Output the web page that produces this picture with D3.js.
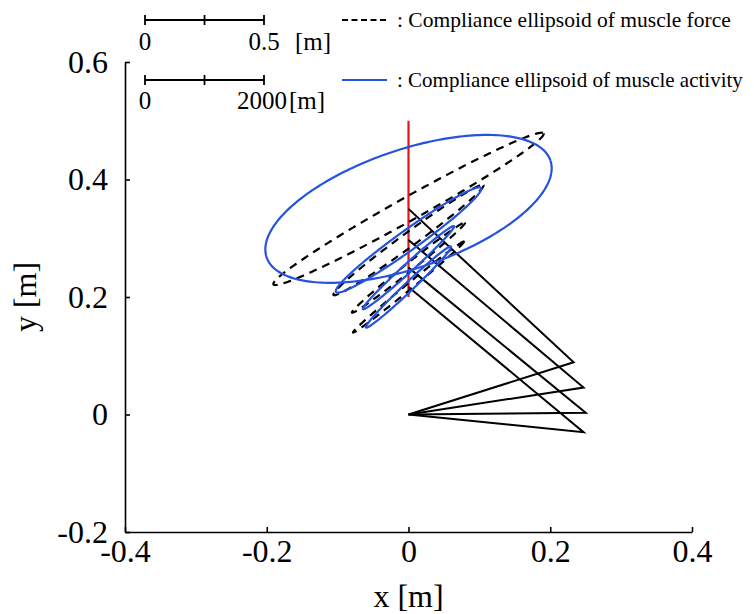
<!DOCTYPE html>
<html>
<head>
<meta charset="utf-8">
<script src="https://cdn.jsdelivr.net/npm/d3@7"></script>
<style>
  html, body { margin: 0; padding: 0; background: #fff; }
  svg { display: block; }
  text { font-family: "Liberation Serif", "Times New Roman", serif; fill: #000; }
</style>
</head>
<body>
<svg id="chart" width="754" height="614"></svg>
<script>
// ---------- data ----------
const xTicks = [-0.4, -0.2, 0, 0.2, 0.4];
const xTickLabels = ["-0.4", "-0.2", "0", "0.2", "0.4"];
const yTicks = [-0.2, 0, 0.2, 0.4, 0.6];
const yTickLabels = ["-0.2", "0", "0.2", "0.4", "0.6"];

// arm postures: shoulder at origin, elbow, hand (x = 0)
const shoulder = [0, 0];
const elbowX = [0.233, 0.247, 0.250, 0.247];
const elbowY = [0.089, 0.046, 0.003, -0.030];
const handX = [0, 0, 0, 0];
const handY = [0.350, 0.297, 0.250, 0.217];

// target path (red)
const pathX = [0, 0];
const pathY = [0.2, 0.5];

// ellipses: conjugate semi-diameters [dx, dy] in data units, centred on each hand
const forceU = [[0.1905, 0.1285], [0.1058, 0.0936], [0.0797, 0.0766], [0.0783, 0.0774]];
const forceV = [[0.0080, -0.0172], [0.0058, -0.0096], [0.0035, -0.0053], [0.0027, -0.0039]];
const activityU = [[0.2002, 0.0824], [0.1023, 0.0885], [0.0642, 0.0706], [0.0600, 0.0689]];
const activityV = [[0.0269, -0.0952], [0.0082, -0.0139], [0.0043, -0.0057], [0.0044, -0.0055]];

const scaleBar1 = ["0", "0.5", "[m]"];
const scaleBar2 = ["0", "2000", "[m]"];
const legendLabels = [": Compliance ellipsoid of muscle force", ": Compliance ellipsoid of muscle activity"];

// ---------- drawing ----------
const svg = d3.select("#chart");
const x = d3.scaleLinear().domain([-0.4, 0.4]).range([125, 692]);
const y = d3.scaleLinear().domain([-0.2, 0.6]).range([532, 62]);

const FONT = 32;

// axes
const xAxis = d3.axisBottom(x).tickValues(xTicks)
  .tickFormat((d, i) => xTickLabels[i]).tickSizeInner(-5).tickSizeOuter(0).tickPadding(7);
const yAxis = d3.axisLeft(y).tickValues(yTicks)
  .tickFormat((d, i) => yTickLabels[i]).tickSizeInner(-5).tickSizeOuter(0).tickPadding(17);

const gx = svg.append("g").attr("transform", `translate(0,${y(-0.2)})`).call(xAxis);
const gy = svg.append("g").attr("transform", `translate(${x(-0.4)},0)`).call(yAxis);
[gx, gy].forEach(g => {
  g.select(".domain").attr("stroke", "#000").attr("stroke-width", 1.6);
  g.selectAll(".tick line").attr("stroke", "#000").attr("stroke-width", 1.6);
  g.selectAll(".tick text").style("font-family", '"Liberation Serif", serif')
    .style("font-size", FONT + "px").attr("fill", "#000");
});

svg.append("text").attr("x", x(0)).attr("y", 607).attr("text-anchor", "middle")
  .style("font-size", FONT + "px").text("x [m]");
svg.append("text").attr("transform", `translate(36,${y(0.2)}) rotate(-90)`)
  .attr("text-anchor", "middle").style("font-size", FONT + "px").text("y [m]");

// red target line
const line = d3.line().x(d => x(d[0])).y(d => y(d[1]));
svg.append("path").datum(pathX.map((v, i) => [v, pathY[i]]))
  .attr("d", line).attr("stroke", "#e8141b").attr("stroke-width", 2.2).attr("fill", "none");

// arms
elbowX.forEach((ex, i) => {
  svg.append("path")
    .datum([[handX[i], handY[i]], [ex, elbowY[i]], shoulder])
    .attr("d", line).attr("stroke", "#000").attr("stroke-width", 2)
    .attr("fill", "none").attr("stroke-linejoin", "miter");
});

// ellipses
const T = d3.range(0, 2 * Math.PI + 0.001, Math.PI / 120);
function ellipsePts(cx, cy, U, V) {
  return T.map(t => [cx + U[0] * Math.cos(t) + V[0] * Math.sin(t),
                     cy + U[1] * Math.cos(t) + V[1] * Math.sin(t)]);
}
forceU.forEach((U, i) => {
  svg.append("path").datum(ellipsePts(handX[i], handY[i], U, forceV[i]))
    .attr("d", line).attr("fill", "none").attr("stroke", "#000")
    .attr("stroke-width", 2.2).attr("stroke-dasharray", "8,6");
});
activityU.forEach((U, i) => {
  svg.append("path").datum(ellipsePts(handX[i], handY[i], U, activityV[i]))
    .attr("d", line).attr("fill", "none").attr("stroke", "#2453e0")
    .attr("stroke-width", 2.2);
});

// scale bars
function scaleBar(yPos, labels, labelY, unitX, numX) {
  const g = svg.append("g");
  g.append("line").attr("x1", 145).attr("x2", 264).attr("y1", yPos).attr("y2", yPos)
    .attr("stroke", "#000").attr("stroke-width", 1.8);
  [145, 204.5, 264].forEach(tx => g.append("line").attr("x1", tx).attr("x2", tx)
    .attr("y1", yPos - 5).attr("y2", yPos + 5).attr("stroke", "#000").attr("stroke-width", 1.8));
  g.append("text").attr("x", 145).attr("y", labelY).attr("text-anchor", "middle")
    .style("font-size", "25px").text(labels[0]);
  g.append("text").attr("x", numX).attr("y", labelY).attr("text-anchor", "middle")
    .style("font-size", "25px").text(labels[1]);
  g.append("text").attr("x", unitX).attr("y", labelY)
    .style("font-size", "25px").text(labels[2]);
}
scaleBar(20, scaleBar1, 50, 295, 264);
scaleBar(80, scaleBar2, 109, 289, 262);

// legend
svg.append("line").attr("x1", 342).attr("x2", 387).attr("y1", 20).attr("y2", 20)
  .attr("stroke", "#000").attr("stroke-width", 1.8).attr("stroke-dasharray", "6,3.5");
svg.append("text").attr("x", 397).attr("y", 27).style("font-size", "21.5px").text(legendLabels[0]);
svg.append("line").attr("x1", 342).attr("x2", 387).attr("y1", 80).attr("y2", 80)
  .attr("stroke", "#2453e0").attr("stroke-width", 1.8);
svg.append("text").attr("x", 397).attr("y", 87).style("font-size", "21px").text(legendLabels[1]);
</script>
</body>
</html>
